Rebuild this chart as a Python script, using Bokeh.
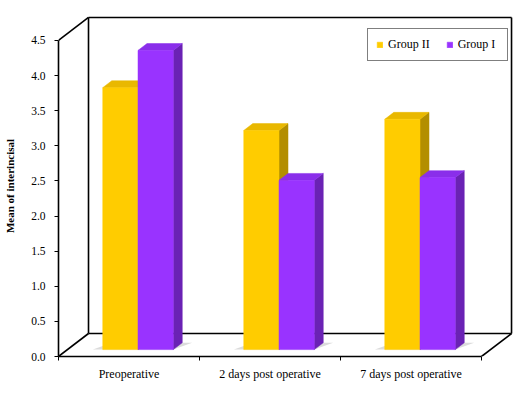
from bokeh.plotting import figure
from bokeh.models import Range1d, FixedTicker, Legend, LegendItem, CustomJSTickFormatter
from bokeh.embed import file_html
from bokeh.resources import INLINE

# ---- data ----
categories = ["Preoperative", "2 days post operative", "7 days post operative"]
series_names = ["Group II", "Group I"]
group_ii = [3.73, 3.12, 3.28]
group_i = [4.26, 2.41, 2.45]
y_ticks = [0.0, 0.5, 1.0, 1.5, 2.0, 2.5, 3.0, 3.5, 4.0, 4.5]

# ---- 3D look parameters (in axis units) ----
N = len(categories)
Y_MAX = y_ticks[-1]
DX = 0.2128      # floor depth along x
DY = 0.3275      # floor depth along y
BAR_W = 0.25
F0, F1 = 0.30, 0.60   # bar front/back depth fraction

front_cols = ["#FFCC00", "#9933FF"]
top_cols = ["#E9B800", "#8A2EEA"]
side_cols = ["#B38E00", "#6A22B4"]

p = figure(frame_width=455, frame_height=341, output_backend="svg", toolbar_location=None,
           x_range=Range1d(0, N + DX + 0.014), y_range=Range1d(0, Y_MAX + DY + 0.028),
           min_border_left=58, min_border_right=0, min_border_top=15, min_border_bottom=26)
p.outline_line_color = None
p.xgrid.visible = False
p.ygrid.visible = False
p.background_fill_color = "white"
p.border_fill_color = "white"

# floor shadows
for i in range(N):
    c = i + 0.5
    x0 = c - BAR_W
    x1 = c + BAR_W
    p.patch([x0 + F0 * DX - 0.07, x1 + F0 * DX, x1 + F1 * DX + 0.07, x0 + F1 * DX],
            [F0 * DY, F0 * DY, F1 * DY, F1 * DY],
            fill_color="#bdbdbd", fill_alpha=0.55, line_color=None)

# wall / floor edges
ex0 = [0, DX, DX, N + DX, DX, 0, N]
ey0 = [Y_MAX, DY, Y_MAX + DY, DY, DY, 0, 0]
ex1 = [DX, DX, N + DX, N + DX, N + DX, DX, N + DX]
ey1 = [Y_MAX + DY, Y_MAX + DY, Y_MAX + DY, Y_MAX + DY, DY, DY, DY]
p.segment(ex0, ey0, ex1, ey1, line_color="black", line_width=1.6)

legend_items = []
for s, vals in enumerate([group_ii, group_i]):
    lefts, rights, bottoms, tops = [], [], [], []
    top_xs, top_ys, side_xs, side_ys = [], [], [], []
    for i, v in enumerate(vals):
        c = i + 0.5
        x0 = c - BAR_W + s * BAR_W
        x1 = x0 + BAR_W
        a0x, a0y = F0 * DX, F0 * DY
        a1x, a1y = F1 * DX, F1 * DY
        lefts.append(x0 + a0x); rights.append(x1 + a0x)
        bottoms.append(a0y); tops.append(v + a0y)
        top_xs.append([x0 + a0x, x1 + a0x, x1 + a1x, x0 + a1x])
        top_ys.append([v + a0y, v + a0y, v + a1y, v + a1y])
        side_xs.append([x1 + a0x, x1 + a1x, x1 + a1x, x1 + a0x])
        side_ys.append([a0y, a1y, v + a1y, v + a0y])
    p.patches(side_xs, side_ys, fill_color=side_cols[s], line_color=side_cols[s], line_width=0.5)
    p.patches(top_xs, top_ys, fill_color=top_cols[s], line_color=top_cols[s], line_width=0.5)
    r = p.quad(left=lefts, right=rights, bottom=bottoms, top=tops,
               fill_color=front_cols[s], line_color=front_cols[s], line_width=0.5)
    legend_items.append(LegendItem(label=series_names[s], renderers=[r]))

# y axis
p.yaxis.bounds = (0, Y_MAX)
p.yaxis.ticker = FixedTicker(ticks=y_ticks, minor_ticks=[])
p.yaxis.formatter = CustomJSTickFormatter(code="return tick.toFixed(1);")
p.yaxis.axis_line_color = "black"
p.yaxis.axis_line_width = 1.6
p.yaxis.major_tick_in = 0
p.yaxis.major_tick_out = 4
p.yaxis.major_tick_line_color = "black"
p.yaxis.minor_tick_line_color = None
p.yaxis.major_label_standoff = 9
p.yaxis.major_label_text_font = "Liberation Serif"
p.yaxis.major_label_text_font_size = "11.5px"
p.yaxis.major_label_text_color = "black"
p.yaxis.axis_label = "Mean of interincisal"
p.yaxis.axis_label_text_font = "Liberation Serif"
p.yaxis.axis_label_text_font_style = "bold"
p.yaxis.axis_label_text_font_size = "11px"
p.yaxis.axis_label_text_color = "black"
p.yaxis.axis_label_standoff = 12

# x axis
centers = [i + 0.5 for i in range(N)]
p.xaxis.bounds = (0, N)
p.xaxis.ticker = FixedTicker(ticks=centers, minor_ticks=list(range(N + 1)))
p.xaxis.major_label_overrides = {c: categories[i] for i, c in enumerate(centers)}
p.xaxis.axis_line_color = "black"
p.xaxis.axis_line_width = 1.6
p.xaxis.major_tick_line_color = None
p.xaxis.major_tick_in = 0
p.xaxis.major_tick_out = 4
p.xaxis.minor_tick_line_color = "black"
p.xaxis.minor_tick_in = 0
p.xaxis.minor_tick_out = 4
p.xaxis.major_label_standoff = 6
p.xaxis.major_label_text_font = "Liberation Serif"
p.xaxis.major_label_text_font_size = "12px"
p.xaxis.major_label_text_color = "black"

legend = Legend(items=legend_items, orientation="horizontal", location=(309, 295),
                label_text_font="Liberation Serif", label_text_font_size="12px",
                label_text_color="black", glyph_width=7, glyph_height=7,
                label_standoff=5, label_height=12, label_width=41, spacing=16,
                padding=8, margin=0, border_line_color="black", border_line_width=1,
                background_fill_color="white", background_fill_alpha=1)
p.add_layout(legend)

open("out.html", "w").write(file_html(p, INLINE))
